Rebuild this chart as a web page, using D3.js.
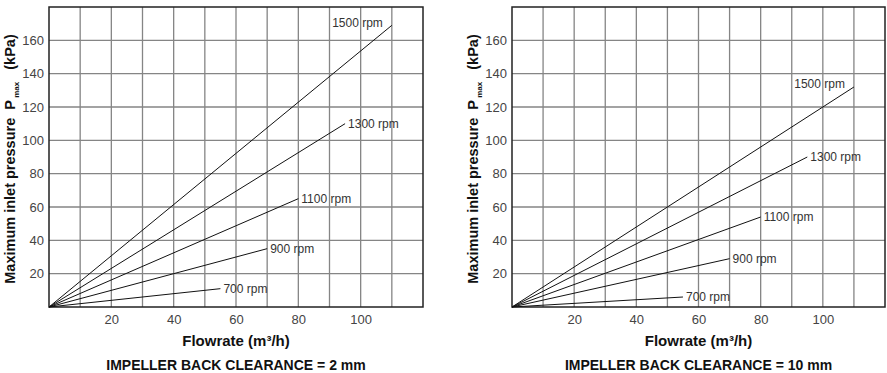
<!DOCTYPE html>
<html>
<head>
<meta charset="utf-8">
<script src="https://cdn.jsdelivr.net/npm/d3@7"></script>
<style>
  body { margin: 0; background: #fff; }
  text { font-family: "Liberation Sans", Arial, sans-serif; }
</style>
</head>
<body>
<div id="chart"></div>
<script>
// data
var flowTicks = [20, 40, 60, 80, 100];
var pressureTicks = [20, 40, 60, 80, 100, 120, 140, 160];
var speeds = ["700 rpm", "900 rpm", "1100 rpm", "1300 rpm", "1500 rpm"];
var endFlow = [55, 70, 80, 95, 110];
var endPressure2mm = [11, 35, 65, 110, 169];
var endPressure10mm = [6, 29, 54, 90, 132];
var clearances = ["IMPELLER BACK CLEARANCE = 2 mm", "IMPELLER BACK CLEARANCE = 10 mm"];

var svg = d3.select("#chart")
  .append("svg")
    .attr("width", 887)
    .attr("height", 373);

function drawPanel(left, right, pressures, caption) {
  var top = 7, bottom = 307;

  var x = d3.scaleLinear().domain([0, 120]).range([left, right]);
  var y = d3.scaleLinear().domain([0, 180]).range([bottom, top]);

  var g = svg.append("g");

  // grid
  g.selectAll(".vgrid")
    .data(d3.range(10, 120, 10))
    .enter().append("line")
      .attr("x1", function(d) { return x(d); })
      .attr("x2", function(d) { return x(d); })
      .attr("y1", top).attr("y2", bottom)
      .attr("stroke", "#858585")
      .attr("stroke-width", 1.3);

  g.selectAll(".hgrid")
    .data(pressureTicks)
    .enter().append("line")
      .attr("x1", left).attr("x2", right)
      .attr("y1", function(d) { return y(d); })
      .attr("y2", function(d) { return y(d); })
      .attr("stroke", "#858585")
      .attr("stroke-width", 1.3);

  // frame
  g.append("rect")
    .attr("x", left).attr("y", top)
    .attr("width", right - left).attr("height", bottom - top)
    .attr("fill", "none")
    .attr("stroke", "#222")
    .attr("stroke-width", 1.5);

  // x axis
  var xAxis = g.append("g")
    .attr("transform", "translate(0," + bottom + ")")
    .call(d3.axisBottom(x).tickValues(flowTicks).tickSize(0).tickPadding(8));
  xAxis.select(".domain").remove();
  xAxis.selectAll("text")
    .attr("font-size", 13)
    .attr("fill", "#444")
    .attr("font-family", "Liberation Sans, Arial, sans-serif");

  // y axis
  var yAxis = g.append("g")
    .attr("transform", "translate(" + left + ",0)")
    .call(d3.axisLeft(y).tickValues(pressureTicks).tickSize(0).tickPadding(5));
  yAxis.select(".domain").remove();
  yAxis.selectAll("text")
    .attr("font-size", 13)
    .attr("fill", "#444")
    .attr("font-family", "Liberation Sans, Arial, sans-serif");

  // rpm lines
  var rows = speeds.map(function(s, i) {
    return { label: s, q: endFlow[i], p: pressures[i] };
  });

  g.selectAll(".rpm")
    .data(rows)
    .enter().append("path")
      .attr("fill", "none")
      .attr("stroke", "#111")
      .attr("stroke-width", 1)
      .attr("d", function(d) {
        return d3.line()
          .x(function(v) { return x(v[0]); })
          .y(function(v) { return y(v[1]); })([[0, 0], [d.q, d.p]]);
      });

  g.selectAll(".rpmlabel")
    .data(rows)
    .enter().append("text")
      .attr("x", function(d, i) { return i == 4 ? x(d.q) - 9 : x(d.q) + 3; })
      .attr("y", function(d, i) { return i == 4 ? y(d.p) - 3 : y(d.p); })
      .attr("dy", "0.35em")
      .attr("text-anchor", function(d, i) { return i == 4 ? "end" : "start"; })
      .attr("font-size", 12)
      .attr("fill", "#333")
      .text(function(d) { return d.label; });

  // axis titles
  var ytitle = g.append("text")
    .attr("transform", "translate(" + (left - 34) + "," + ((top + bottom) / 2 + 2) + ") rotate(-90)")
    .attr("text-anchor", "middle")
    .attr("font-size", 14.5)
    .attr("font-weight", "bold")
    .attr("fill", "#111")
    .style("white-space", "pre");
  ytitle.append("tspan").text("Maximum inlet pressure  P");
  ytitle.append("tspan").attr("font-size", 8).attr("dy", 4).text(" max");
  ytitle.append("tspan").attr("dy", -4).text("   (kPa)");

  g.append("text")
    .attr("x", (left + right) / 2)
    .attr("y", 346)
    .attr("text-anchor", "middle")
    .attr("font-size", 15)
    .attr("font-weight", "bold")
    .attr("fill", "#111")
    .text("Flowrate (m³/h)");

  g.append("text")
    .attr("x", (left + right) / 2)
    .attr("y", 370)
    .attr("text-anchor", "middle")
    .attr("font-size", 14)
    .attr("font-weight", "bold")
    .attr("fill", "#111")
    .text(caption);
}

drawPanel(49, 423, endPressure2mm, clearances[0]);
drawPanel(512, 885, endPressure10mm, clearances[1]);
</script>
</body>
</html>
